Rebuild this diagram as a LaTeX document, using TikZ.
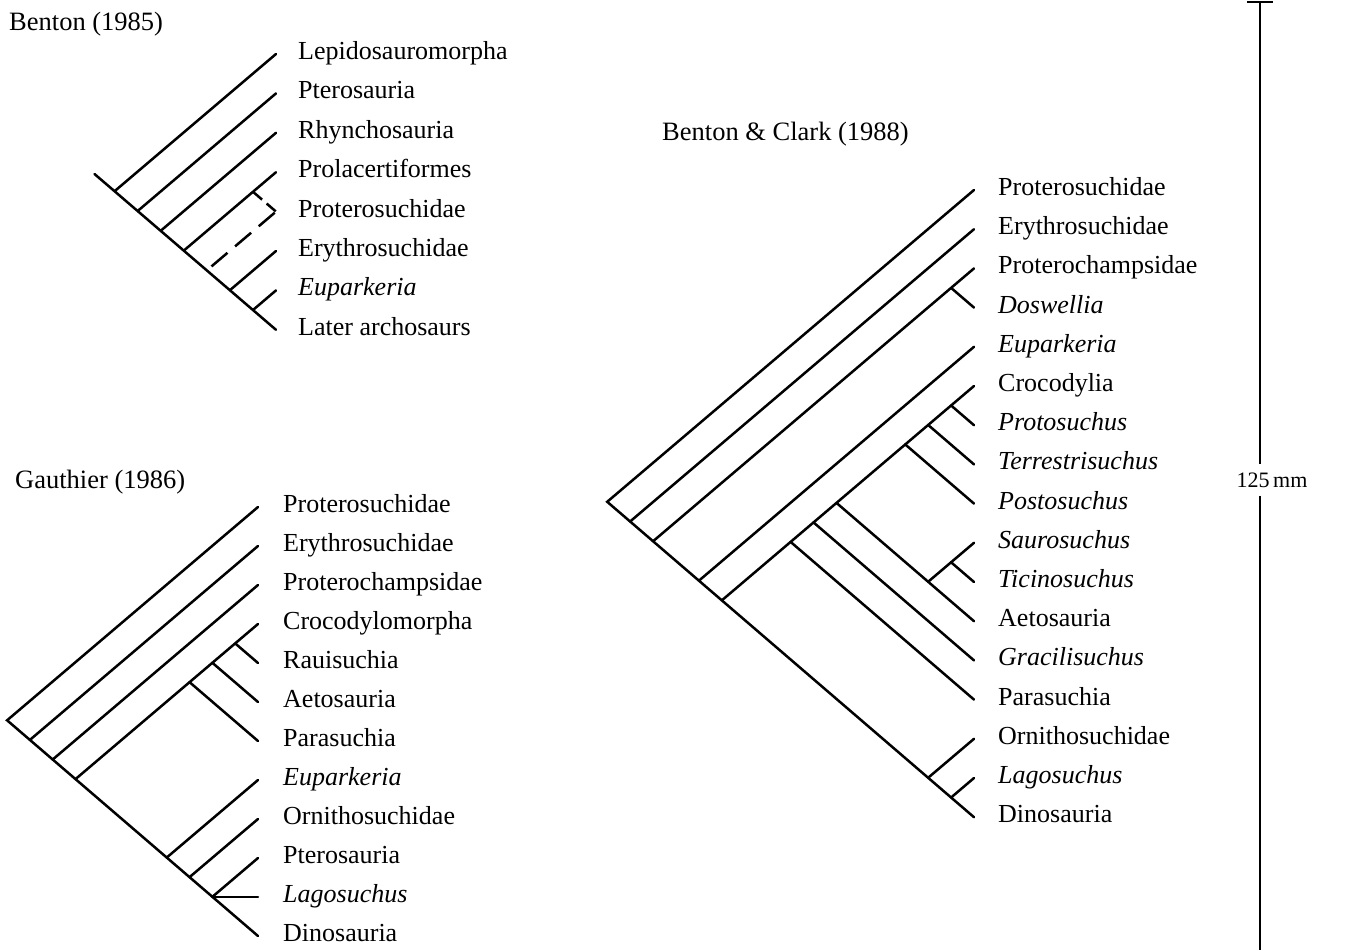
\documentclass[tikz,border=0pt]{standalone}
\usepackage{fontspec}
\setmainfont{Liberation Serif}
\usetikzlibrary{calc}
\begin{document}
\begin{tikzpicture}[x=1pt,y=-1pt,
  br/.style={line width=2.5pt, line cap=round},
  dsh/.style={line width=2.5pt, line cap=butt},
  lab/.style={anchor=base west, inner sep=0pt, font=\fontsize{26}{30}\selectfont},
  ttl/.style={anchor=base west, inner sep=0pt, font=\fontsize{26.5}{30}\selectfont},
  scl/.style={line width=1.8pt}]
\useasboundingbox (0,0) rectangle (1351,950);

% ---------------- Benton (1985) ----------------
\node[ttl] (tA) at (9,31) {Benton (1985)};
\foreach \i/\y in {0/54,1/93.4,2/132.8,3/172.2,4/211.6,5/251,6/290.4,7/329.8}
  \coordinate (a\i) at (276,\y);
\coordinate (aS)  at (94.5,174.0);
\coordinate (aR)  at (114.7,191.1);
\coordinate (aJ1) at (137.8,210.9);
\coordinate (aJ2) at (160.8,230.7);
\coordinate (aJ3) at (183.8,250.6);
\coordinate (aJ4) at (206.9,270.3);
\coordinate (aJ5) at (229.9,290.2);
\coordinate (aJ6) at (253.0,310.0);
\coordinate (aK4) at (253.0,191.8);
\draw[br] (aS) -- (a7);
\draw[br] (aR) -- (a0);
\draw[br] (aJ1) -- (a1);
\draw[br] (aJ2) -- (a2);
\draw[br] (aJ3) -- (a3);
\draw[br] (aJ5) -- (a5);
\draw[br] (aJ6) -- (a6);
\draw[dsh, dash pattern=on 21pt off 10pt, dash phase=25pt] (aJ4) -- (a4);
\draw[dsh, dash pattern=on 12pt off 6pt] (aK4) -- (a4);
\node[lab] (lA0) at ($(a0)+(22,5.5)$) {Lepidosauromorpha};
\node[lab] (lA1) at ($(a1)+(22,5.5)$) {Pterosauria};
\node[lab] (lA2) at ($(a2)+(22,5.5)$) {Rhynchosauria};
\node[lab] (lA3) at ($(a3)+(22,5.5)$) {Prolacertiformes};
\node[lab] (lA4) at ($(a4)+(22,5.5)$) {Proterosuchidae};
\node[lab] (lA5) at ($(a5)+(22,5.5)$) {Erythrosuchidae};
\node[lab] (lA6) at ($(a6)+(22,5.5)$) {\itshape Euparkeria};
\node[lab] (lA7) at ($(a7)+(22,5.5)$) {Later archosaurs};

% ---------------- Gauthier (1986) ----------------
\node[ttl] (tG) at (15,488) {Gauthier (1986)};
\foreach \i/\y in {0/507,1/546,2/585,3/624,4/663,5/702,6/741,7/780,8/819,9/858,10/896.8,11/936}
  \coordinate (g\i) at (258,\y);
\coordinate (gR)  at (7.1,720.3);
\coordinate (gJ1) at (29.9,739.9);
\coordinate (gJ2) at (52.7,759.5);
\coordinate (gJ3) at (75.5,779.1);
\coordinate (gJ7) at (166.8,857.5);
\coordinate (gJ8) at (189.6,877.1);
\coordinate (gJ9) at (212.4,896.8);
\coordinate (gK4) at (235.2,643.4);
\coordinate (gK5) at (212.4,662.8);
\coordinate (gK6) at (189.6,682.2);
\draw[br] (g0) -- (gR) -- (g11);
\draw[br] (gJ1) -- (g1);
\draw[br] (gJ2) -- (g2);
\draw[br] (gJ3) -- (g3);
\draw[br] (gK4) -- (g4);
\draw[br] (gK5) -- (g5);
\draw[br] (gK6) -- (g6);
\draw[br] (gJ7) -- (g7);
\draw[br] (gJ8) -- (g8);
\draw[br] (gJ9) -- (g9);
\draw[br] (gJ9) -- (g10);
\node[lab] (lG0)  at ($(g0)+(25,5.5)$)  {Proterosuchidae};
\node[lab] (lG1)  at ($(g1)+(25,5.5)$)  {Erythrosuchidae};
\node[lab] (lG2)  at ($(g2)+(25,5.5)$)  {Proterochampsidae};
\node[lab] (lG3)  at ($(g3)+(25,5.5)$)  {Crocodylomorpha};
\node[lab] (lG4)  at ($(g4)+(25,5.5)$)  {Rauisuchia};
\node[lab] (lG5)  at ($(g5)+(25,5.5)$)  {Aetosauria};
\node[lab] (lG6)  at ($(g6)+(25,5.5)$)  {Parasuchia};
\node[lab] (lG7)  at ($(g7)+(25,5.5)$)  {\itshape Euparkeria};
\node[lab] (lG8)  at ($(g8)+(25,5.5)$)  {Ornithosuchidae};
\node[lab] (lG9)  at ($(g9)+(25,5.5)$)  {Pterosauria};
\node[lab] (lG10) at ($(g10)+(25,5.5)$) {\itshape Lagosuchus};
\node[lab] (lG11) at ($(g11)+(25,5.5)$) {Dinosauria};

% ---------------- Benton & Clark (1988) ----------------
\node[ttl] (tC) at (662,140) {Benton \& Clark (1988)};
\foreach \i/\y in {0/190,1/229.2,2/268.4,3/307.6,4/346.8,5/386,6/425.2,7/464.4,8/503.6,9/542.8,10/582,11/621.2,12/660.4,13/699.6,14/738.8,15/778,16/817.2}
  \coordinate (c\i) at (974,\y);
\coordinate (cR)   at (607.2,501.8);
\coordinate (cJ1)  at (630.1,521.5);
\coordinate (cJ2)  at (653.1,541.2);
\coordinate (cJ4)  at (699.0,580.6);
\coordinate (cJ5)  at (721.9,600.3);
\coordinate (cJ14) at (928.2,777.7);
\coordinate (cJ15) at (951.1,797.5);
\coordinate (cK3)  at (951.1,287.9);
\coordinate (cK6)  at (951.1,405.5);
\coordinate (cK7)  at (928.2,425.0);
\coordinate (cK8)  at (905.2,444.4);
\coordinate (cK11) at (836.5,502.9);
\coordinate (cK12) at (813.5,522.4);
\coordinate (cK13) at (790.6,541.9);
\coordinate (cK9)  at (928.2,581.7);
\coordinate (cK10) at (951.1,562.3);
\draw[br] (c0) -- (cR) -- (c16);
\draw[br] (cJ1) -- (c1);
\draw[br] (cJ2) -- (c2);
\draw[br] (cK3) -- (c3);
\draw[br] (cJ4) -- (c4);
\draw[br] (cJ5) -- (c5);
\draw[br] (cK6) -- (c6);
\draw[br] (cK7) -- (c7);
\draw[br] (cK8) -- (c8);
\draw[br] (cK11) -- (c11);
\draw[br] (cK9) -- (c9);
\draw[br] (cK10) -- (c10);
\draw[br] (cK12) -- (c12);
\draw[br] (cK13) -- (c13);
\draw[br] (cJ14) -- (c14);
\draw[br] (cJ15) -- (c15);
\node[lab] (lC0)  at ($(c0)+(24,5.5)$)  {Proterosuchidae};
\node[lab] (lC1)  at ($(c1)+(24,5.5)$)  {Erythrosuchidae};
\node[lab] (lC2)  at ($(c2)+(24,5.5)$)  {Proterochampsidae};
\node[lab] (lC3)  at ($(c3)+(24,5.5)$)  {\itshape Doswellia};
\node[lab] (lC4)  at ($(c4)+(24,5.5)$)  {\itshape Euparkeria};
\node[lab] (lC5)  at ($(c5)+(24,5.5)$)  {Crocodylia};
\node[lab] (lC6)  at ($(c6)+(24,5.5)$)  {\itshape Protosuchus};
\node[lab] (lC7)  at ($(c7)+(24,5.5)$)  {\itshape Terrestrisuchus};
\node[lab] (lC8)  at ($(c8)+(24,5.5)$)  {\itshape Postosuchus};
\node[lab] (lC9)  at ($(c9)+(24,5.5)$)  {\itshape Saurosuchus};
\node[lab] (lC10) at ($(c10)+(24,5.5)$) {\itshape Ticinosuchus};
\node[lab] (lC11) at ($(c11)+(24,5.5)$) {Aetosauria};
\node[lab] (lC12) at ($(c12)+(24,5.5)$) {\itshape Gracilisuchus};
\node[lab] (lC13) at ($(c13)+(24,5.5)$) {Parasuchia};
\node[lab] (lC14) at ($(c14)+(24,5.5)$) {Ornithosuchidae};
\node[lab] (lC15) at ($(c15)+(24,5.5)$) {\itshape Lagosuchus};
\node[lab] (lC16) at ($(c16)+(24,5.5)$) {Dinosauria};

% ---------------- scale bar ----------------
\coordinate (sTop) at (1260,2);
\coordinate (sBot) at (1260,950);
\coordinate (sTL)  at (1247,2);
\coordinate (sTR)  at (1273,2);
\node[inner xsep=2pt, inner ysep=8pt, font=\fontsize{22}{26}\selectfont] (sLab) at (1272,480) {125\,mm};
\draw[scl] (sTL) -- (sTR);
\draw[scl] (sTop) -- (sTop |- sLab.north);
\draw[scl] (sBot |- sLab.south) -- (sBot);
\end{tikzpicture}
\end{document}
